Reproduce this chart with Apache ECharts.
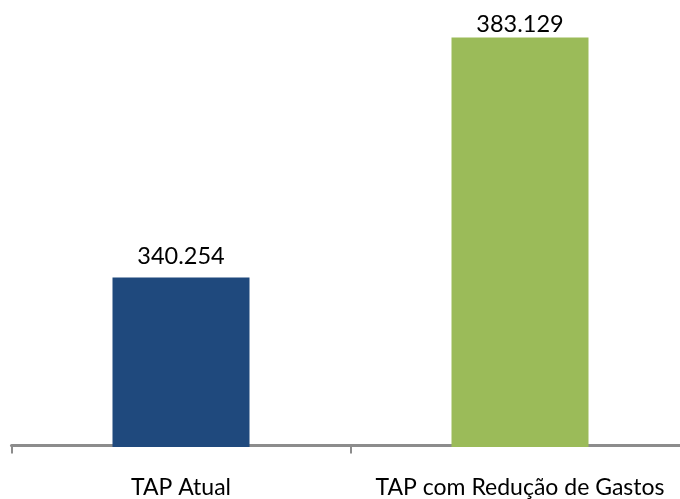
<!DOCTYPE html>
<html>
<head>
<meta charset="utf-8">
<script src="https://cdn.jsdelivr.net/npm/echarts@6/dist/echarts.min.js"></script>
<style>
  html, body { margin: 0; padding: 0; background: #ffffff; }
  #chart { width: 680px; height: 499px; }
</style>
</head>
<body>
<div id="chart"></div>
<script>
// Cenários comparados e valor da TAP em cada um
const categories = ['TAP Atual', 'TAP com Redução de Gastos'];
const values = [340.254, 383.129];
const barColors = ['#1F497D', '#9BBB59'];
// Distância do rótulo ao topo de cada barra
const labelGaps = [9, 1];

// Formato numérico com ponto decimal e três casas
const fmt = v => v.toFixed(3);

const chart = echarts.init(document.getElementById('chart'), null, { renderer: 'canvas' });

chart.setOption({
  animation: false,
  backgroundColor: '#ffffff',
  grid: {
    left: 11.5, width: 678, top: -1, height: 448,
    containLabel: false,
    outerBoundsMode: 'none'
  },
  xAxis: {
    type: 'category',
    data: categories,
    boundaryGap: true,
    offset: -1.5,
    axisLine: { show: true, lineStyle: { color: '#8c8c8c', width: 3 } },
    axisTick: { show: true, interval: 0, alignWithLabel: false, length: 8, lineStyle: { color: '#8c8c8c', width: 2 } },
    axisLabel: {
      interval: 0,
      hideOverlap: false,
      margin: 31,
      color: '#000000',
      fontFamily: 'Lato',
      fontSize: 23
    }
  },
  yAxis: {
    type: 'value',
    min: 310,
    max: 390,
    show: false,
    splitLine: { show: false }
  },
  series: [{
    type: 'bar',
    barWidth: 137,
    data: values.map((v, i) => ({
      value: v,
      itemStyle: { color: barColors[i] },
      label: { distance: labelGaps[i] }
    })),
    label: {
      show: true,
      position: 'top',
      color: '#000000',
      fontFamily: 'Lato',
      fontSize: 23.5,
      formatter: p => fmt(p.value)
    }
  }]
});
</script>
</body>
</html>
